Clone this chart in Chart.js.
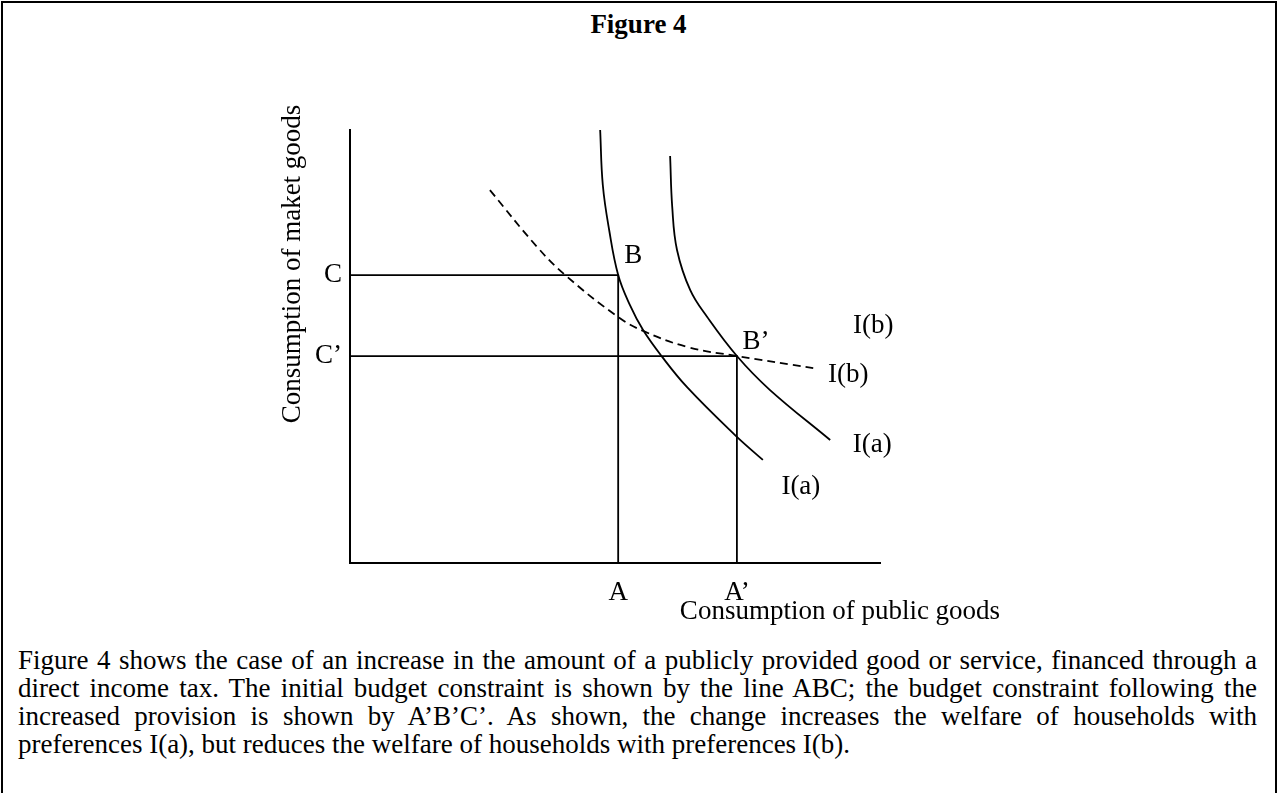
<!DOCTYPE html>
<html lang="en">
<head>
    <meta charset="UTF-8">
    <title>Figure 4</title>
    <script src="https://cdn.jsdelivr.net/npm/chart.js"></script>
    <style>
        body {
            margin: 0;
            background: white;
            font-family: "Liberation Serif", "Times New Roman", serif;
            color: black;
        }
        .frame {
            position: absolute;
            left: 1px;
            top: 1px;
            width: 1272px;
            height: 800px;
            border-left: 2px solid black;
            border-top: 2px solid black;
            border-right: 2px solid black;
        }
        h1 {
            position: absolute;
            left: 0;
            width: 1277px;
            top: 9px;
            margin: 0;
            font-size: 27px;
            font-weight: bold;
            text-align: center;
        }
        #fig {
            position: absolute;
            left: 0;
            top: 0;
        }
        .caption {
            position: absolute;
            left: 18px;
            width: 1239px;
            top: 646px;
            margin: 0;
            font-size: 27px;
            line-height: 28px;
            text-align: justify;
        }
    </style>
</head>
<body>
    <div class="frame"></div>
    <h1>Figure 4</h1>
    <canvas id="fig" width="1277" height="640"></canvas>
    <p class="caption">Figure 4 shows the case of an increase in the amount of a publicly provided good or service, financed through a direct income tax. The initial budget constraint is shown by the line ABC; the budget constraint following the increased provision is shown by A’B’C’. As shown, the change increases the welfare of households with preferences I(a), but reduces the welfare of households with preferences I(b).</p>

    <script>
        // axis marks (public goods on x, market goods on y)
        const xTickValues = [50.6, 73.0];
        const xTickLabels = ["A", "A’"];
        const yTickValues = [66.5, 47.8];
        const yTickLabels = ["C", "C’"];

        // budget constraints ABC and A'B'C'
        const budgetABC = [[0, 66.5], [50.6, 66.5], [50.6, 0]];
        const budgetA2B2C2 = [[0, 47.8], [73.0, 47.8], [73.0, 0]];

        // indifference curves
        const innerIa = [[47.2, 100], [47.7, 87.3], [48.9, 76.9], [50.6, 66.5], [52.8, 59.6], [55.3, 53.8],
                         [58.9, 47.6], [63.6, 40.6], [72.6, 29.6], [77.9, 23.8]];
        const outerIa = [[60.4, 94.0], [60.8, 82.2], [61.7, 72.3], [64.2, 63.0], [67.4, 56.8], [73.0, 47.8],
                         [79.2, 40.0], [90.6, 28.4]];
        const curveIb = [[26.4, 86.1], [35.3, 73.0], [40.6, 66.5], [50.6, 56.8], [55.3, 53.6], [63.6, 49.9],
                         [73.0, 47.8], [87.4, 45.0]];

        const xTitle = "Consumption of public goods";
        const yTitle = "Consumption of maket goods";

        const FONT = '27px "Liberation Serif", "Times New Roman", serif';

        function pts(arr) {
            return arr.map(p => ({ x: p[0], y: p[1] }));
        }

        function lineSet(arr, dashed, smooth) {
            return {
                data: pts(arr),
                showLine: true,
                borderColor: "black",
                borderWidth: 1.8,
                borderDash: dashed ? [8, 5] : [],
                pointRadius: 0,
                fill: false,
                clip: false,
                tension: smooth ? 0.4 : 0
            };
        }

        // text labels, drawn at points taken from the scales
        const textLabels = {
            id: "textLabels",
            afterDraw(chart) {
                const c = chart.ctx;
                const xs = chart.scales.x, ys = chart.scales.y;
                const area = chart.chartArea;
                const at = (p, dx, dy) => [xs.getPixelForValue(p[0]) + dx, ys.getPixelForValue(p[1]) + dy];
                c.save();
                c.fillStyle = "black";
                c.font = FONT;
                c.textAlign = "center";
                c.textBaseline = "middle";

                const items = [
                    ["B", at(budgetABC[1], 15, -19)],
                    ["B’", at(budgetA2B2C2[1], 19, -14)],
                    ["I(b)", at(outerIa[outerIa.length - 1], 43, -114)],
                    ["I(b)", at(curveIb[curveIb.length - 1], 35, 7)],
                    ["I(a)", at(outerIa[outerIa.length - 1], 42, 5)],
                    ["I(a)", at(innerIa[innerIa.length - 1], 38, 27)]
                ];
                items.forEach(([t, [x, y]]) => c.fillText(t, x, y));

                // axis titles
                c.fillText(xTitle, area.right - 40, area.bottom + 49);
                c.translate(area.left - 57, area.top + 134);
                c.rotate(-Math.PI / 2);
                c.fillText(yTitle, 0, 0);
                c.restore();
            }
        };

        let ctx = document.getElementById("fig").getContext("2d");
        let chart = new Chart(ctx, {
            type: "scatter",
            data: {
                datasets: [
                    lineSet(budgetABC, false, false),
                    lineSet(budgetA2B2C2, false, false),
                    lineSet(innerIa, false, true),
                    lineSet(outerIa, false, true),
                    lineSet(curveIb, true, true)
                ]
            },
            options: {
                responsive: false,
                animation: false,
                layout: { padding: { left: 250, right: 397, top: 130, bottom: 17 } },
                plugins: { legend: { display: false }, tooltip: { enabled: false } },
                scales: {
                    x: {
                        type: "linear", min: 0, max: 100,
                        grid: { display: false, drawTicks: false },
                        border: { display: true, color: "black", width: 2 },
                        afterFit: s => { s.height = 60; },
                        afterBuildTicks: s => { s.ticks = xTickValues.map(v => ({ value: v })); },
                        ticks: {
                            autoSkip: false, maxRotation: 0, padding: 14, color: "black",
                            font: { family: '"Liberation Serif", serif', size: 27 },
                            callback: (v, i) => xTickLabels[i]
                        }
                    },
                    y: {
                        type: "linear", min: 0, max: 100,
                        grid: { display: false, drawTicks: false },
                        border: { display: true, color: "black", width: 2 },
                        afterFit: s => { s.width = 100; },
                        afterBuildTicks: s => { s.ticks = yTickValues.map(v => ({ value: v })); },
                        ticks: {
                            autoSkip: false, padding: 8, color: "black",
                            font: { family: '"Liberation Serif", serif', size: 27 },
                            callback: (v, i) => yTickLabels[i]
                        }
                    }
                }
            },
            plugins: [textLabels]
        });
    </script>
</body>
</html>
